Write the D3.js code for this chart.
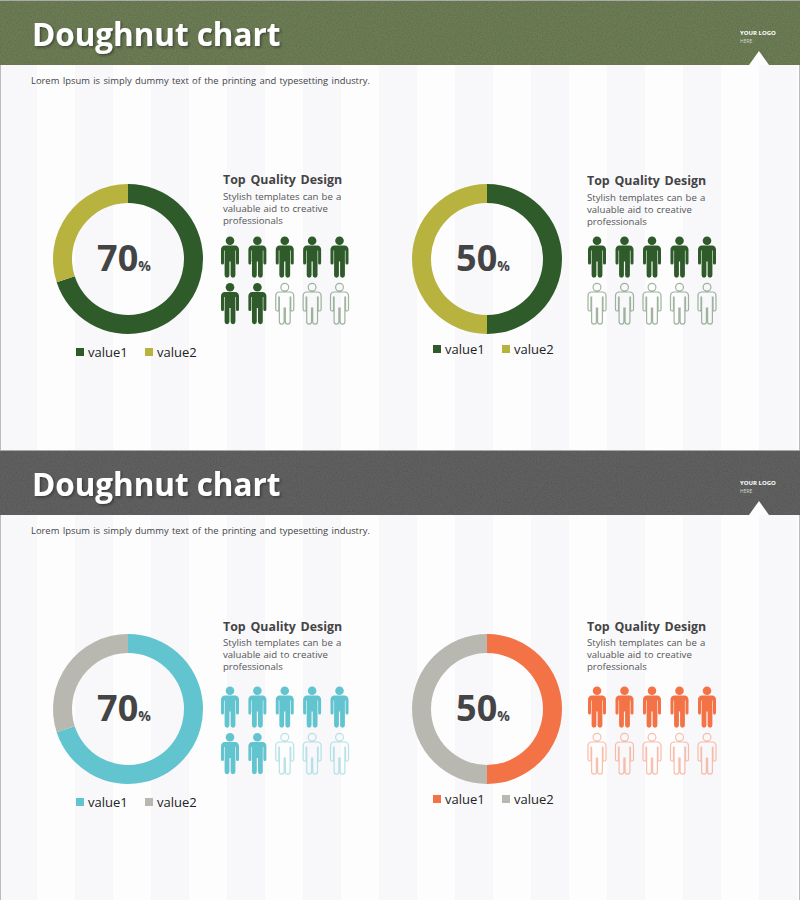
<!DOCTYPE html>
<html>
<head>
<meta charset="utf-8">
<script src="https://cdn.jsdelivr.net/npm/d3@7"></script>
<style>
body{margin:0;background:#fdfdfe;}
svg{display:block;font-family:"Open Sans",sans-serif;}
</style>
</head>
<body>
<svg id="chart" width="800" height="900"></svg>
<script>
var titles=["Doughnut chart","Doughnut chart"];
var subtitle="Lorem Ipsum is simply dummy text of the printing and typesetting industry.";
var logoLines=["YOUR LOGO","HERE"];
var headColors=["#6c7b54","#606060"];
var seriesNames=["value1","value2"];
var chartValues=[70,50,70,50];			//value1 of every doughnut, in percent
var color1=["#2f5a2a","#2f5a2a","#62c4cf","#f37346"];
var color2=["#b8b23e","#b8b23e","#b9b8b0","#b9b8b0"];
var blurbTitle="Top Quality Design";
var blurbLines=["Stylish templates can be a","valuable aid to creative","professionals"];

var svg=d3.select("#chart");
var defs=svg.append("defs");

// grain on the header bars
var grain=defs.append("filter").attr("id","grain").attr("x",0).attr("y",0).attr("width",1).attr("height",1);
grain.append("feTurbulence").attr("type","fractalNoise").attr("baseFrequency",0.8).attr("numOctaves",2).attr("result","n");
grain.append("feColorMatrix").attr("in","n").attr("type","matrix")
	.attr("values","0 0 0 0 0  0 0 0 0 0  0 0 0 0 0  0 0 0 0.5 -0.2").attr("result","d");
grain.append("feComposite").attr("in","d").attr("in2","SourceGraphic").attr("operator","in").attr("result","c");
grain.append("feMerge").selectAll("feMergeNode").data(["SourceGraphic","c"]).enter()
	.append("feMergeNode").attr("in",function(d){return d;});

var shadow=defs.append("filter").attr("id","tshadow").attr("x","-5%").attr("y","-20%").attr("width","110%").attr("height","140%");
shadow.append("feDropShadow").attr("dx",1.5).attr("dy",1.5).attr("stdDeviation",1).attr("flood-color","#222").attr("flood-opacity",0.55);

// pale vertical bands of the slide background
svg.append("g").selectAll("rect").data(d3.range(0,11)).enter().append("rect")
	.attr("x",function(d){return -1+d*76;})
	.attr("y",0).attr("width",38).attr("height",900)
	.attr("fill","#f8f8fb");

// thin grey edge of the two slides
svg.append("g").selectAll("rect").data([0,799]).enter().append("rect")
	.attr("x",function(d){return d;}).attr("y",0).attr("width",1).attr("height",900)
	.attr("fill","#bbb");

var personPath="M-5 9H5C7.5 9 9 10.8 9 13V26.5A1.5 1.5 0 0 1 6 26.5V14H5.4V38.8A2.4 2.4 0 0 1 .6 38.8V25H-.6V38.8A2.4 2.4 0 0 1-5.4 38.8V14H-6V26.5A1.5 1.5 0 0 1-9 26.5V13C-9 10.8-7.5 9-5 9Z";

function drawPerson(g,col,filled)
{
	g.append("circle").attr("cy",4.2).attr("r",filled?4.3:3.9)
		.attr("fill",filled?col:"none").attr("stroke",col).attr("stroke-width",filled?0:1.2)
		.attr("stroke-opacity",filled?1:0.45);
	g.append("path").attr("d",personPath)
		.attr("fill",filled?col:"none").attr("stroke",col).attr("stroke-width",filled?0:1.2)
		.attr("stroke-opacity",filled?1:0.45);
}

function drawHeader(i)
{
	var top=i*450;
	var g=svg.append("g").attr("transform","translate(0,"+top+")");
	g.append("rect").attr("width",800).attr("height",1).attr("fill","#aaa");
	g.append("rect").attr("y",1).attr("width",800).attr("height",64)
		.attr("fill",headColors[i]).attr("filter","url(#grain)");
	g.append("text").attr("x",32).attr("y",46).attr("font-size",31.4).attr("font-weight",700)
		.attr("fill","#fff").attr("filter","url(#tshadow)").text(titles[i]);
	g.append("text").attr("x",740).attr("y",35).attr("font-size",6).attr("font-weight",700)
		.attr("fill","#fff").text(logoLines[0]);
	g.append("text").attr("x",740).attr("y",43).attr("font-size",5).attr("fill","#d5d9cc").text(logoLines[1]);
	g.append("path").attr("d",d3.line()([[749,65],[759,51],[769,65]])).attr("fill","#fdfdfe");
	g.append("text").attr("x",31).attr("y",84).attr("font-size",9.4).attr("fill","#444")
		.attr("word-spacing",0.9).text(subtitle);
}

var pie=d3.pie().sort(null);
var arc=d3.arc().innerRadius(56).outerRadius(75);
var colX=[128,487];
var rowY=[259,709];

function drawChart(i)
{
	var col=i%2, row=Math.floor(i/2);
	var cx=colX[col], cy=rowY[row];
	var val=chartValues[i];
	var colors=[color1[i],color2[i]];
	var g=svg.append("g").attr("transform","translate("+cx+","+cy+")");

	g.selectAll("path").data(pie([val,100-val])).enter().append("path")
		.attr("d",arc)
		.attr("fill",function(d,k){return colors[k];});

	var label=g.append("text").attr("x",-4).attr("text-anchor","middle").attr("y",12).attr("fill","#444").attr("font-weight",700);
	label.append("tspan").attr("font-size",36).text(val);
	label.append("tspan").attr("font-size",14).text("%");

	// legend
	var legY=cy+(col==0?93:90);
	var legX=d3.scaleOrdinal().domain(seriesNames).range(col==0?[cx-52,cx+17]:[cx-54,cx+15]);
	var leg=svg.append("g").selectAll("g").data(seriesNames).enter().append("g")
		.attr("transform",function(d){return "translate("+legX(d)+","+legY+")";});
	leg.append("rect").attr("y",-4).attr("width",8).attr("height",8)
		.attr("fill",function(d,k){return colors[k];});
	leg.append("text").attr("x",12).attr("y",4.5).attr("font-size",13).attr("fill","#222")
		.text(function(d){return d;});

	// text block
	var tx=cx+(col==0?95:100);
	var ty=row==0?(col==0?184:185):630.5;
	svg.append("text").attr("x",tx).attr("y",ty).attr("font-size",12.4).attr("font-weight",700)
		.attr("fill","#444").attr("word-spacing",1.5).text(blurbTitle);
	svg.append("g").selectAll("text").data(blurbLines).enter().append("text")
		.attr("x",tx).attr("y",function(d,k){return ty+15.5+k*12;})
		.attr("font-size",9.6).attr("fill","#555").attr("word-spacing",0.6)
		.text(function(d){return d;});

	// ten people, one for each 10 percent
	var px=d3.scalePoint().domain(d3.range(5)).range(col==0?[tx+7,tx+116.5]:[tx+10,tx+120]);
	var py=d3.scalePoint().domain(d3.range(2)).range([cy-22.5,cy+24]);
	var people=svg.append("g").selectAll("g").data(d3.range(10)).enter().append("g")
		.attr("transform",function(d){return "translate("+px(d%5)+","+py(Math.floor(d/5))+")";});
	people.each(function(d){
		drawPerson(d3.select(this),colors[0],d<val/10);
	});
}

drawHeader(0);
drawHeader(1);
d3.range(4).forEach(drawChart);
</script>
</body>
</html>
